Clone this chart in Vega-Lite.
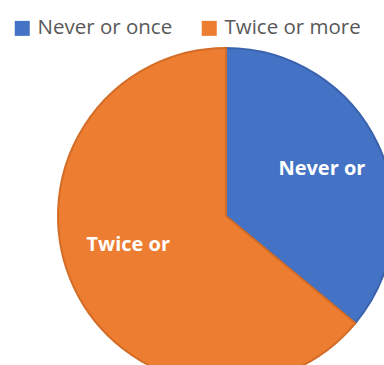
{
  "$schema": "https://vega.github.io/schema/vega-lite/v6.json",
  "width": 452,
  "height": 432,
  "padding": 0,
  "autosize": {"type": "none"},
  "background": "white",
  "data": {"values": [
    {"category": "Never or once", "value": 36, "label": "Never or"},
    {"category": "Twice or more", "value": 64, "label": "Twice or"}
  ]},
  "encoding": {
    "theta": {"field": "value", "type": "quantitative", "stack": true},
    "order": {"field": "category", "type": "nominal"}
  },
  "layer": [
    {
      "mark": {"type": "arc", "outerRadius": 168, "strokeWidth": 2},
      "encoding": {
        "color": {
          "field": "category", "type": "nominal",
          "scale": {"domain": ["Never or once", "Twice or more"], "range": ["#4472C4", "#ED7D31"]},
          "legend": {
            "title": null, "orient": "none", "direction": "horizontal",
            "legendX": 12, "legendY": 18, "padding": 0,
            "symbolType": "square", "symbolSize": 225, "symbolStrokeWidth": 0,
            "labelFont": "Open Sans", "labelFontSize": 20.5, "labelColor": "#595959",
            "labelOffset": 5, "columnPadding": 26, "symbolOffset": 0
          }
        },
        "stroke": {
          "field": "category", "type": "nominal",
          "scale": {"domain": ["Never or once", "Twice or more"], "range": ["#3A63AD", "#D36C27"]},
          "legend": null
        }
      }
    },
    {
      "mark": {"type": "text", "radius": 106, "font": "Open Sans", "fontWeight": "bold", "fontSize": 20, "color": "white", "dy": -2, "letterSpacing": -0.5},
      "encoding": {"text": {"condition": {"test": "datum.category == 'Never or once'", "field": "label"}, "value": ""}}
    },
    {
      "mark": {"type": "text", "radius": 108, "font": "Open Sans", "fontWeight": "bold", "fontSize": 20, "color": "white", "dy": -17, "letterSpacing": -0.5},
      "encoding": {"text": {"condition": {"test": "datum.category == 'Twice or more'", "field": "label"}, "value": ""}}
    }
  ]
}
